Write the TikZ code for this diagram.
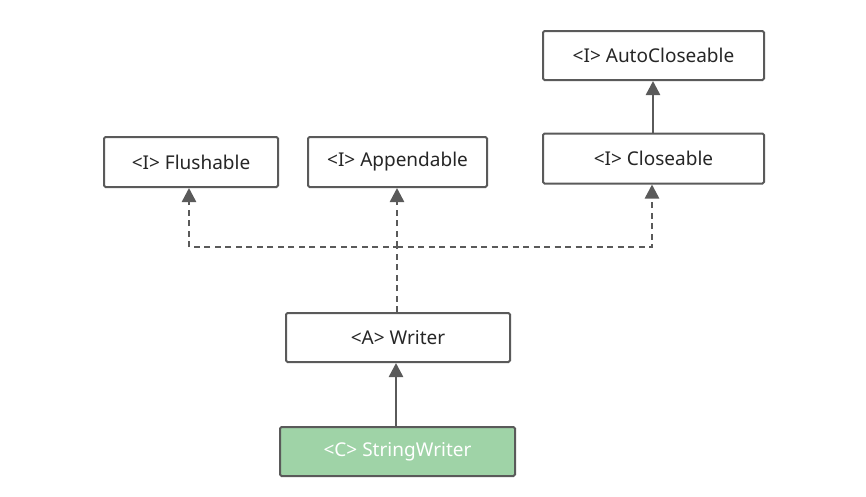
\documentclass[tikz,border=0pt]{standalone}
\usepackage{fontspec}
\setmainfont{Noto Sans}
\usetikzlibrary{arrows.meta}
\definecolor{edgegray}{HTML}{5A5A5A}
\definecolor{txtgray}{HTML}{262626}
\definecolor{boxgreen}{HTML}{9FD3A7}
\begin{document}
\begin{tikzpicture}[x=1pt,y=-1pt,
  umlbox/.style={draw=edgegray,line width=2pt,rounded corners=1.5pt,fill=white,
    text=txtgray,font=\fontsize{19}{22}\selectfont,inner sep=0pt,anchor=north west},
  solidarrow/.style={draw=edgegray,line width=2.5pt,-{Triangle[width=14pt,length=14pt]}},
  dasharrow/.style={draw=edgegray,line width=2.5pt,dash pattern=on 6pt off 4.5pt,-{Triangle[width=14pt,length=14pt]}}]
\useasboundingbox (0,0) rectangle (866,496);
\node[umlbox,minimum width=221pt,minimum height=49pt] (auto) at (542,30) {<I> AutoCloseable};
\node[umlbox,minimum width=221pt,minimum height=50pt] (close) at (542,132.5) {<I> Closeable};
\node[umlbox,minimum width=174pt,minimum height=50pt] (flush) at (103,136) {<I> Flushable};
\node[umlbox,minimum width=179pt,minimum height=50pt] (append) at (307,136) {<I> Appendable};
\node[umlbox,minimum width=224pt,minimum height=49pt] (writer) at (285,312) {<A> Writer};
\node[umlbox,minimum width=235pt,minimum height=49pt,fill=boxgreen,text=white] (sw) at (279,426) {<C> StringWriter};
\coordinate (j) at (397,247);
\draw[solidarrow] (close.north -| 653,0) -- (auto.south -| 653,0);
\draw[solidarrow] (sw.north -| 396,0) -- (writer.south -| 396,0);
\draw[dasharrow] (writer.north -| j) -- (j) -- (189,247) -- (flush.south -| 189,0);
\draw[dasharrow] (j) -- (append.south -| j);
\draw[dasharrow] (j) -- (652,247) -- (close.south -| 652,0);
\end{tikzpicture}
\end{document}
